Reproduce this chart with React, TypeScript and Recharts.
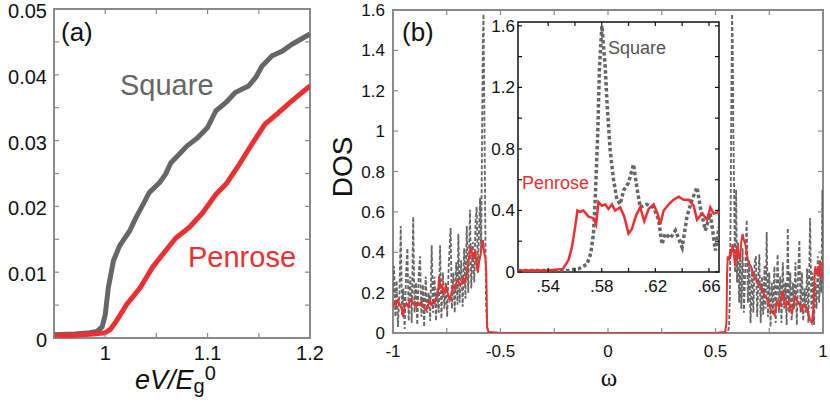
import { LineChart, Line, XAxis, YAxis, ReferenceArea } from 'recharts';

const FONT = '"Liberation Sans", Arial, Helvetica, sans-serif';
const RED = '#ea3030';
const GRAY = '#666666';
const FRAME = '#8a8a8a';

// (a) tunneling conductance vs eV/Eg0
const squareBias = [
  0.95, 0.97, 0.985, 0.992, 0.997, 1.0, 1.003, 1.008, 1.014, 1.024,
  1.03, 1.037, 1.043, 1.053, 1.059, 1.064, 1.072, 1.08, 1.09, 1.1,
  1.108, 1.118, 1.127, 1.14, 1.147, 1.153, 1.163, 1.173, 1.182, 1.2,
];
const squareCond = [
  0.0005, 0.0006, 0.0008, 0.001, 0.0017, 0.0035, 0.0076, 0.0117, 0.014, 0.0163,
  0.0183, 0.0203, 0.0221, 0.0236, 0.0249, 0.0266, 0.0279, 0.0292, 0.0304, 0.032,
  0.0345, 0.0358, 0.0373, 0.0383, 0.0396, 0.0413, 0.0429, 0.0436, 0.0446, 0.0462,
];
const penroseBias = [
  0.95, 0.97, 0.988, 1.0, 1.005, 1.011, 1.021, 1.034, 1.046, 1.056,
  1.069, 1.082, 1.095, 1.108, 1.118, 1.131, 1.143, 1.156, 1.169, 1.182, 1.2,
];
const penroseCond = [
  0.0003, 0.0004, 0.0006, 0.0008, 0.0013, 0.0026, 0.0051, 0.0076, 0.0107, 0.0127,
  0.0152, 0.0168, 0.019, 0.0218, 0.0234, 0.0264, 0.0294, 0.0325, 0.0342, 0.036, 0.0383,
];
const biasTicks = [0.95, 1.0, 1.05, 1.1, 1.15, 1.2];
const biasLabels = [1.0, 1.1, 1.2];
const condTicks = [0, 0.005, 0.01, 0.015, 0.02, 0.025, 0.03, 0.035, 0.04, 0.045, 0.05];
const condLabels = [0, 0.01, 0.02, 0.03, 0.04, 0.05];

// (b) DOS vs omega
const squareOmega = [
  -1.0, -0.995, -0.989, -0.983, -0.977, -0.97, -0.964, -0.958, -0.952, -0.946,
  -0.939, -0.933, -0.927, -0.92, -0.913, -0.906, -0.9, -0.893, -0.887, -0.88,
  -0.874, -0.868, -0.861, -0.855, -0.848, -0.841, -0.834, -0.827, -0.82, -0.814,
  -0.807, -0.8, -0.794, -0.787, -0.781, -0.775, -0.768, -0.761, -0.755, -0.748,
  -0.741, -0.732, -0.726, -0.719, -0.713, -0.706, -0.7, -0.696, -0.69, -0.683,
  -0.676, -0.669, -0.663, -0.657, -0.65, -0.642, -0.636, -0.629, -0.622, -0.616,
  -0.611, -0.605, -0.6, -0.595, -0.59, -0.586, -0.582, -0.579, -0.575, -0.571,
  -0.567, -0.563, -0.555, -0.5, 0.0, 0.5, 0.55, 0.557, 0.563, 0.567,
  0.571, 0.574, 0.577, 0.58, 0.583, 0.587, 0.591, 0.596, 0.6, 0.605,
  0.61, 0.615, 0.62, 0.626, 0.632, 0.638, 0.645, 0.651, 0.657, 0.663,
  0.67, 0.676, 0.682, 0.688, 0.694, 0.7, 0.704, 0.71, 0.716, 0.722,
  0.728, 0.733, 0.738, 0.744, 0.75, 0.756, 0.762, 0.768, 0.774, 0.78,
  0.789, 0.795, 0.801, 0.807, 0.813, 0.819, 0.825, 0.831, 0.836, 0.842,
  0.848, 0.854, 0.86, 0.866, 0.872, 0.878, 0.884, 0.89, 0.896, 0.902,
  0.908, 0.914, 0.92, 0.926, 0.932, 0.94, 0.946, 0.952, 0.958, 0.964,
  0.97, 0.976, 0.982, 0.988, 0.993, 0.997, 1.0,
];
const squareDos = [
  0.2, 0.33, 0.08, 0.26, 0.03, 0.2, 0.53, 0.09, 0.22, 0.02,
  0.3, 0.42, 0.06, 0.28, 0.05, 0.575, 0.1, 0.25, 0.04, 0.3,
  0.38, 0.08, 0.24, 0.03, 0.28, 0.1, 0.2, 0.06, 0.435, 0.1,
  0.28, 0.06, 0.22, 0.1, 0.435, 0.07, 0.3, 0.12, 0.25, 0.08,
  0.33, 0.52, 0.12, 0.3, 0.1, 0.35, 0.14, 0.49, 0.15, 0.36,
  0.13, 0.42, 0.17, 0.53, 0.2, 0.61, 0.22, 0.45, 0.25, 0.55,
  0.625, 0.3, 0.5, 0.67, 0.4, 0.95, 1.45, 1.58, 1.1, 0.55,
  0.15, 0.03, 0.005, 0, 0, 0, 0, 0.005, 0.03, 0.2,
  0.7, 1.2, 1.58, 1.45, 1.0, 0.66, 0.3, 0.71, 0.25, 0.45,
  0.15, 0.38, 0.12, 0.42, 0.1, 0.3, 0.56, 0.15, 0.36, 0.05,
  0.32, 0.1, 0.35, 0.38, 0.08, 0.3, 0.39, 0.05, 0.28, 0.09,
  0.33, 0.12, 0.5, 0.08, 0.3, 0.03, 0.25, 0.1, 0.33, 0.05,
  0.39, 0.1, 0.28, 0.05, 0.35, 0.12, 0.25, 0.04, 0.52, 0.1,
  0.3, 0.06, 0.25, 0.12, 0.35, 0.04, 0.28, 0.46, 0.1, 0.3,
  0.06, 0.22, 0.1, 0.32, 0.05, 0.57, 0.12, 0.3, 0.04, 0.25,
  0.12, 0.38, 0.15, 0.3, 0.2, 0.71, 0.25,
];
const penroseOmega = [
  -1.0, -0.992, -0.986, -0.977, -0.968, -0.96, -0.953, -0.946, -0.938, -0.93,
  -0.922, -0.915, -0.907, -0.9, -0.892, -0.884, -0.876, -0.868, -0.86, -0.852,
  -0.845, -0.837, -0.829, -0.821, -0.813, -0.806, -0.798, -0.79, -0.786, -0.783,
  -0.777, -0.772, -0.767, -0.76, -0.752, -0.744, -0.736, -0.728, -0.72, -0.712,
  -0.705, -0.698, -0.69, -0.682, -0.674, -0.666, -0.659, -0.652, -0.645, -0.639,
  -0.633, -0.628, -0.622, -0.617, -0.611, -0.605, -0.6, -0.594, -0.588, -0.582,
  -0.576, -0.57, -0.566, -0.562, -0.556, -0.5, 0.0, 0.5, 0.545, 0.551,
  0.554, 0.557, 0.563, 0.568, 0.572, 0.576, 0.58, 0.586, 0.592, 0.597,
  0.603, 0.608, 0.614, 0.62, 0.626, 0.632, 0.639, 0.645, 0.65, 0.658,
  0.665, 0.673, 0.681, 0.688, 0.696, 0.704, 0.712, 0.72, 0.727, 0.735,
  0.743, 0.75, 0.758, 0.766, 0.774, 0.78, 0.785, 0.791, 0.797, 0.805,
  0.813, 0.82, 0.828, 0.834, 0.84, 0.848, 0.856, 0.863, 0.871, 0.879,
  0.887, 0.895, 0.902, 0.91, 0.921, 0.93, 0.94, 0.948, 0.955, 0.96,
  0.964, 0.97, 0.975, 0.981, 0.986, 0.993, 1.0,
];
const penroseDos = [
  0.13, 0.15, 0.14, 0.163, 0.14, 0.12, 0.08, 0.13, 0.147, 0.13,
  0.16, 0.17, 0.15, 0.14, 0.13, 0.15, 0.14, 0.155, 0.13, 0.12,
  0.114, 0.14, 0.163, 0.14, 0.15, 0.147, 0.18, 0.2, 0.28, 0.25,
  0.22, 0.24, 0.197, 0.21, 0.23, 0.19, 0.163, 0.2, 0.23, 0.22,
  0.25, 0.262, 0.24, 0.246, 0.27, 0.25, 0.28, 0.33, 0.38, 0.427,
  0.4, 0.37, 0.39, 0.41, 0.33, 0.3, 0.35, 0.38, 0.42, 0.46,
  0.4, 0.37, 0.3, 0.03, 0.005, 0, 0, 0, 0.005, 0.05,
  0.3, 0.38, 0.36, 0.4, 0.39, 0.42, 0.44, 0.38, 0.33, 0.4,
  0.43, 0.38, 0.37, 0.45, 0.49, 0.46, 0.44, 0.4, 0.36, 0.34,
  0.33, 0.3, 0.28, 0.27, 0.25, 0.24, 0.23, 0.21, 0.19, 0.18,
  0.16, 0.14, 0.114, 0.1, 0.09, 0.12, 0.16, 0.14, 0.13, 0.17,
  0.21, 0.16, 0.13, 0.15, 0.16, 0.12, 0.1, 0.14, 0.18, 0.16,
  0.15, 0.13, 0.114, 0.14, 0.13, 0.1, 0.065, 0.05, 0.12, 0.25,
  0.33, 0.3, 0.31, 0.28, 0.36, 0.3, 0.26,
];
const omegaTicks = [-1, -0.75, -0.5, -0.25, 0, 0.25, 0.5, 0.75, 1];
const omegaLabels = [-1, -0.5, 0, 0.5, 1];
const dosTicks = [0, 0.2, 0.4, 0.6, 0.8, 1.0, 1.2, 1.4, 1.6];

// inset: zoom near the gap edge
const insetSquareOmega = [
  0.5175, 0.554, 0.5626, 0.5689, 0.5718, 0.5738, 0.5751, 0.577, 0.5783, 0.5801,
  0.5826, 0.5838, 0.5863, 0.5888, 0.5913, 0.5938, 0.5963, 0.6, 0.6037, 0.6062,
  0.6087, 0.6137, 0.6187, 0.6224, 0.625, 0.6274, 0.6312, 0.635, 0.64, 0.6436,
  0.6474, 0.6511, 0.6536, 0.6573, 0.661, 0.6648, 0.6675,
];
const insetSquareDos = [
  0.01, 0.01, 0.02, 0.05, 0.12, 0.25, 0.47, 0.9, 1.33, 1.6,
  1.33, 1.12, 0.79, 0.6, 0.47, 0.44, 0.53, 0.58, 0.7, 0.55,
  0.42, 0.44, 0.42, 0.34, 0.18, 0.25, 0.22, 0.27, 0.16, 0.36,
  0.47, 0.55, 0.42, 0.27, 0.38, 0.14, 0.29,
];
const insetPenroseOmega = [
  0.5175, 0.54, 0.551, 0.5551, 0.5577, 0.5601, 0.5619, 0.5639, 0.5663, 0.5701,
  0.5738, 0.5758, 0.5775, 0.5801, 0.5826, 0.585, 0.5876, 0.59, 0.5938, 0.5968,
  0.6, 0.6025, 0.6057, 0.6087, 0.6117, 0.615, 0.6187, 0.6217, 0.6237, 0.6262,
  0.63, 0.6336, 0.6374, 0.6411, 0.6449, 0.6486, 0.6511, 0.6549, 0.6586, 0.661,
  0.6635, 0.6675,
];
const insetPenroseDos = [
  0.01, 0.01, 0.02, 0.076, 0.16, 0.29, 0.4, 0.39, 0.4, 0.36,
  0.35, 0.31, 0.455, 0.43, 0.44, 0.41, 0.44, 0.4, 0.42, 0.36,
  0.25, 0.28, 0.37, 0.42, 0.33, 0.41, 0.44, 0.38, 0.31, 0.4,
  0.44, 0.47, 0.49, 0.47, 0.47, 0.43, 0.34, 0.38, 0.34, 0.42,
  0.38, 0.39,
];
const insetOmegaTicks = [0.54, 0.56, 0.58, 0.6, 0.62, 0.64, 0.66];
const insetOmegaLabels = [0.54, 0.58, 0.62, 0.66];
const insetDosTicks = [0, 0.2, 0.4, 0.6, 0.8, 1.0, 1.2, 1.4, 1.6];
const insetDosLabels = [0, 0.4, 0.8, 1.2, 1.6];

const rows = (xs: number[], ys: number[]) => xs.map((x, i) => ({ x, y: ys[i] }));
const has = (list: number[], v: number) => list.some((m) => Math.abs(m - v) < 1e-9);

type TickOpts = {
  span: number;
  labels: number[];
  fmt: (v: number) => string;
  len: number;
  color: string;
  font: number;
  gap: number;
  base: number;
};

const yTick = (o: TickOpts) => (p: any) => {
  const { x, y, payload } = p;
  const v = payload.value;
  return (
    <g>
      <line x1={x} x2={x + o.len} y1={y} y2={y} stroke={o.color} strokeWidth={1.2} />
      <line x1={x + o.span} x2={x + o.span - o.len} y1={y} y2={y} stroke={o.color} strokeWidth={1.2} />
      {has(o.labels, v) && (
        <text x={x - o.gap} y={y + o.base} textAnchor="end" fontSize={o.font} fontFamily={FONT} fill="#111">
          {o.fmt(v)}
        </text>
      )}
    </g>
  );
};

const xTick = (o: TickOpts) => (p: any) => {
  const { x, y, payload } = p;
  const v = payload.value;
  return (
    <g>
      <line x1={x} x2={x} y1={y} y2={y - o.len} stroke={o.color} strokeWidth={1.2} />
      <line x1={x} x2={x} y1={y - o.span} y2={y - o.span + o.len} stroke={o.color} strokeWidth={1.2} />
      {has(o.labels, v) && (
        <text x={x} y={y + o.base} textAnchor="middle" fontSize={o.font} fontFamily={FONT} fill="#111">
          {o.fmt(v)}
        </text>
      )}
    </g>
  );
};

const trim = (v: number) => String(+v.toFixed(2));

export default function App() {
  return (
    <div style={{ position: 'absolute', left: 0, top: 0, width: 830, height: 403, background: '#fff' }}>
      {/* panel (a) */}
      <div style={{ position: 'absolute', left: 0, top: 0 }}>
        <LineChart width={330} height={403} margin={{ top: 9, right: 20, bottom: 64, left: 53 }}>
          <XAxis
            type="number"
            dataKey="x"
            domain={[0.95, 1.2]}
            allowDataOverflow
            ticks={biasTicks}
            interval={0}
            height={1}
            tickSize={0}
            tickMargin={0}
            axisLine={false}
            tick={xTick({ span: 329, labels: biasLabels, fmt: trim, len: 5, color: FRAME, font: 20, gap: 0, base: 22 })}
          />
          <YAxis
            type="number"
            dataKey="y"
            domain={[0, 0.05]}
            allowDataOverflow
            ticks={condTicks}
            interval={0}
            width={1}
            tickSize={0}
            tickMargin={0}
            axisLine={false}
            tick={yTick({ span: 256, labels: condLabels, fmt: (v) => (v === 0 ? '0' : v.toFixed(2)), len: 5, color: FRAME, font: 20, gap: 7, base: 9 })}
          />
          <ReferenceArea x1={0.95} x2={1.2} y1={0} y2={0.05} fill="none" stroke={FRAME} strokeWidth={2} />
          <Line data={rows(squareBias, squareCond)} dataKey="y" stroke={GRAY} strokeWidth={5} dot={false} strokeLinejoin="round" isAnimationActive={false} />
          <Line data={rows(penroseBias, penroseCond)} dataKey="y" stroke={RED} strokeWidth={5} dot={false} strokeLinejoin="round" isAnimationActive={false} />
        </LineChart>
      </div>

      {/* panel (b) */}
      <div style={{ position: 'absolute', left: 330, top: 0 }}>
        <LineChart width={500} height={403} margin={{ top: 10, right: 7, bottom: 69, left: 62 }}>
          <XAxis
            type="number"
            dataKey="x"
            domain={[-1, 1]}
            allowDataOverflow
            ticks={omegaTicks}
            interval={0}
            height={1}
            tickSize={0}
            tickMargin={0}
            axisLine={false}
            tick={xTick({ span: 323, labels: omegaLabels, fmt: trim, len: 5, color: FRAME, font: 17, gap: 0, base: 24 })}
          />
          <YAxis
            type="number"
            dataKey="y"
            domain={[0, 1.6]}
            allowDataOverflow
            ticks={dosTicks}
            interval={0}
            width={1}
            tickSize={0}
            tickMargin={0}
            axisLine={false}
            tick={yTick({ span: 430, labels: dosTicks, fmt: (v) => String(+v.toFixed(1)), len: 5, color: FRAME, font: 17, gap: 8, base: 6 })}
          />
          <ReferenceArea x1={-1} x2={1} y1={0} y2={1.6} fill="none" stroke={FRAME} strokeWidth={2} />
          <Line data={rows(squareOmega, squareDos)} dataKey="y" stroke={GRAY} strokeWidth={1.8} strokeDasharray="4 2" dot={false} isAnimationActive={false} />
          <Line data={rows(penroseOmega, penroseDos)} dataKey="y" stroke={RED} strokeWidth={2} dot={false} isAnimationActive={false} />
        </LineChart>
      </div>

      {/* inset */}
      <div style={{ position: 'absolute', left: 518, top: 22, width: 201, height: 250, background: '#fff' }} />
      <div style={{ position: 'absolute', left: 480, top: 0 }}>
        <LineChart width={260} height={300} margin={{ top: 22, right: 21, bottom: 27, left: 37 }}>
          <XAxis
            type="number"
            dataKey="x"
            domain={[0.5175, 0.6675]}
            allowDataOverflow
            ticks={insetOmegaTicks}
            interval={0}
            height={1}
            tickSize={0}
            tickMargin={0}
            axisLine={false}
            tick={xTick({ span: 250, labels: insetOmegaLabels, fmt: (v) => '.' + Math.round(v * 100), len: 4, color: '#111', font: 17, gap: 0, base: 20 })}
          />
          <YAxis
            type="number"
            dataKey="y"
            domain={[0, 1.625]}
            allowDataOverflow
            ticks={insetDosTicks}
            interval={0}
            width={1}
            tickSize={0}
            tickMargin={0}
            axisLine={false}
            tick={yTick({ span: 201, labels: insetDosLabels, fmt: (v) => String(+v.toFixed(1)), len: 4, color: '#111', font: 17, gap: 3, base: 6 })}
          />
          <ReferenceArea x1={0.5175} x2={0.6675} y1={0} y2={1.625} fill="none" stroke="#111" strokeWidth={1.5} />
          <Line data={rows(insetSquareOmega, insetSquareDos)} dataKey="y" stroke={GRAY} strokeWidth={3.5} strokeDasharray="3.5 2.5" dot={false} isAnimationActive={false} />
          <Line data={rows(insetPenroseOmega, insetPenroseDos)} dataKey="y" stroke={RED} strokeWidth={2.5} dot={false} isAnimationActive={false} />
        </LineChart>
      </div>

      {/* annotations */}
      <svg width={830} height={403} style={{ position: 'absolute', left: 0, top: 0, pointerEvents: 'none' }} fontFamily={FONT}>
        <text x={61} y={41} fontSize={26} fill="#111">(a)</text>
        <text x={120} y={95} fontSize={29} fill={GRAY}>Square</text>
        <text x={188} y={267} fontSize={29} fill={RED}>Penrose</text>
        <text x={135} y={389} fontSize={27} fill="#111">
          <tspan fontStyle="italic">eV/E</tspan>
          <tspan fontSize={20} dy={4}>g</tspan>
          <tspan fontSize={20} dy={-13}>0</tspan>
        </text>

        <text x={402} y={41} fontSize={26} fill="#111">(b)</text>
        <text x={342} y={167} fontSize={28} fill="#111" textAnchor="middle" dominantBaseline="central" transform="rotate(-90 342 167)">DOS</text>
        <text x={609} y={386} fontSize={25} fill="#111" textAnchor="middle" fontFamily='"Liberation Serif", "DejaVu Serif", serif'>ω</text>
        <text x={608} y={54} fontSize={18} fill="#555">Square</text>
        <text x={522} y={189} fontSize={18} fill={RED}>Penrose</text>
      </svg>
    </div>
  );
}
